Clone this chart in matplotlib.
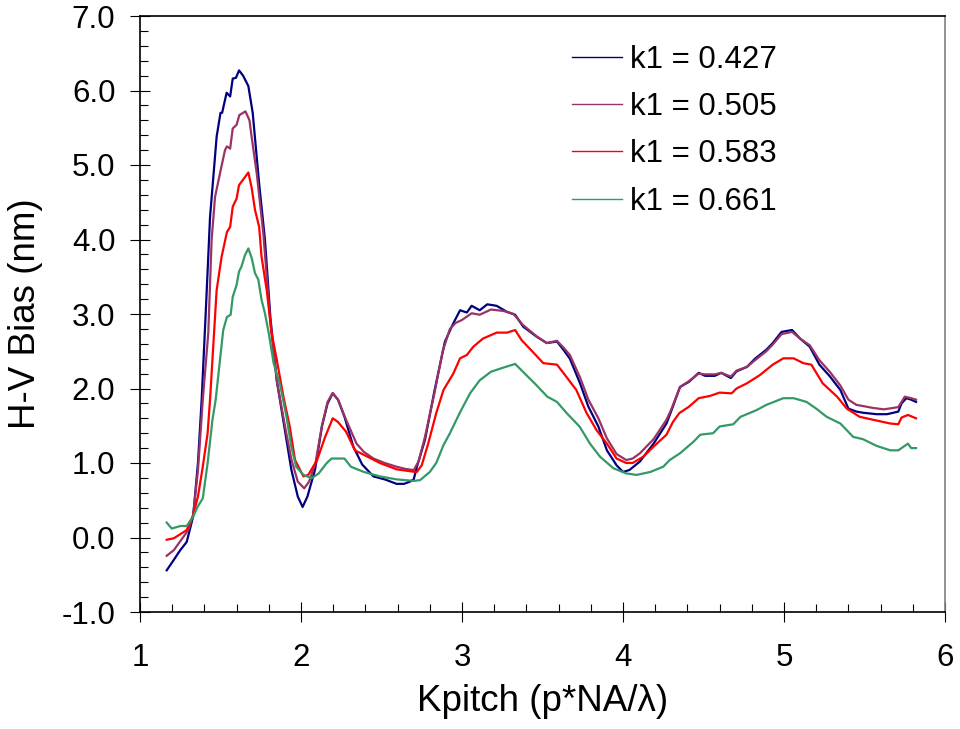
"""
H-V bias vs Kpitch for four k1 values
"""
import matplotlib
import matplotlib.pyplot as plt
from matplotlib.lines import Line2D
from matplotlib.ticker import MultipleLocator, FormatStrFormatter

matplotlib.use("Agg")

plt.rcParams["font.family"] = ["Liberation Sans", "DejaVu Sans"]

labels = ["k1 = 0.427", "k1 = 0.505", "k1 = 0.583", "k1 = 0.661"]
colors = ["#000080", "#993366", "#ff0000", "#339966"]

# k1 = 0.427
x_427 = [1.166, 1.21, 1.25, 1.29, 1.33, 1.36, 1.383, 1.41, 1.435, 1.476, 1.50, 1.51,
         1.538, 1.56, 1.576, 1.596, 1.615, 1.64, 1.673, 1.70, 1.74, 1.776, 1.81, 1.85,
         1.90, 1.94, 1.98, 2.01, 2.04, 2.087, 2.13, 2.165, 2.197, 2.23, 2.27, 2.325,
         2.38, 2.45, 2.52, 2.594, 2.64, 2.677, 2.70, 2.72, 2.77, 2.83, 2.894, 2.946,
         2.988, 3.03, 3.06, 3.11, 3.157, 3.215, 3.278, 3.33, 3.38, 3.464, 3.526, 3.59,
         3.63, 3.67, 3.733, 3.785, 3.847, 3.90, 3.96, 4.0, 4.04, 4.105, 4.19, 4.27,
         4.30, 4.354, 4.41, 4.47, 4.51, 4.57, 4.61, 4.67, 4.705, 4.77, 4.82, 4.89,
         4.93, 4.985, 5.05, 5.10, 5.16, 5.22, 5.286, 5.35, 5.40, 5.45, 5.49, 5.575,
         5.64, 5.71, 5.73, 5.76, 5.79, 5.82]
y_427 = [-0.44, -0.30, -0.17, -0.06, 0.28, 1.0, 1.85, 3.1, 4.30, 5.38, 5.70, 5.70,
         5.97, 5.92, 6.16, 6.17, 6.27, 6.20, 6.06, 5.70, 4.75, 4.0, 2.95, 2.1,
         1.44, 0.91, 0.55, 0.41, 0.55, 0.91, 1.49, 1.80, 1.935, 1.85, 1.62, 1.22,
         0.98, 0.82, 0.78, 0.72, 0.72, 0.75, 0.78, 0.95, 1.31, 1.98, 2.63, 2.875,
         3.05, 3.02, 3.11, 3.05, 3.13, 3.11, 3.03, 2.99, 2.83, 2.695, 2.61, 2.63,
         2.52, 2.40, 2.07, 1.756, 1.49, 1.17, 0.97, 0.88, 0.906, 1.02, 1.26, 1.53,
         1.70, 2.02, 2.09, 2.21, 2.17, 2.17, 2.21, 2.14, 2.23, 2.29, 2.40, 2.52,
         2.61, 2.76, 2.785, 2.67, 2.56, 2.32, 2.16, 1.98, 1.73, 1.69, 1.675, 1.655,
         1.655, 1.69, 1.80, 1.87, 1.85, 1.82]

# k1 = 0.505
x_505 = [1.166, 1.21, 1.27, 1.30, 1.33, 1.36, 1.39, 1.424, 1.445, 1.466, 1.497, 1.528,
         1.54, 1.56, 1.576, 1.60, 1.617, 1.655, 1.68, 1.69, 1.725, 1.766, 1.81, 1.85,
         1.90, 1.94, 1.98, 2.02, 2.05, 2.09, 2.13, 2.165, 2.197, 2.23, 2.28, 2.345,
         2.39, 2.45, 2.52, 2.594, 2.65, 2.70, 2.73, 2.77, 2.83, 2.88, 2.925, 2.96,
         3.0, 3.06, 3.11, 3.18, 3.26, 3.32, 3.38, 3.464, 3.526, 3.59, 3.63, 3.67,
         3.733, 3.785, 3.847, 3.90, 3.96, 4.02, 4.06, 4.105, 4.19, 4.27, 4.30, 4.354,
         4.41, 4.47, 4.51, 4.57, 4.61, 4.67, 4.705, 4.77, 4.82, 4.89, 4.93, 4.985,
         5.05, 5.10, 5.16, 5.22, 5.286, 5.35, 5.40, 5.45, 5.49, 5.55, 5.62, 5.71,
         5.75, 5.79, 5.82]
y_505 = [-0.245, -0.17, 0.01, 0.10, 0.30, 0.9, 1.85, 2.74, 4.0, 4.57, 4.89, 5.2,
         5.25, 5.22, 5.49, 5.54, 5.67, 5.72, 5.60, 5.43, 4.89, 4.08, 2.875, 2.1,
         1.50, 1.05, 0.75, 0.66, 0.75, 1.0, 1.50, 1.82, 1.94, 1.85, 1.58, 1.26,
         1.15, 1.06, 1.0, 0.95, 0.92, 0.905, 1.02, 1.35, 1.95, 2.50, 2.80, 2.88,
         2.92, 3.01, 2.99, 3.06, 3.04, 3.0, 2.85, 2.70, 2.61, 2.64, 2.55, 2.45,
         2.15, 1.85, 1.60, 1.33, 1.12, 1.04, 1.06, 1.13, 1.32, 1.58, 1.72, 2.02,
         2.10, 2.20, 2.19, 2.19, 2.21, 2.16, 2.24, 2.29, 2.38, 2.50, 2.59, 2.73,
         2.76, 2.67, 2.58, 2.38, 2.22, 2.04, 1.85, 1.78, 1.765, 1.74, 1.72, 1.75,
         1.89, 1.87, 1.85]

# k1 = 0.583
x_583 = [1.166, 1.21, 1.24, 1.29, 1.33, 1.36, 1.39, 1.42, 1.435, 1.476, 1.507, 1.54,
         1.56, 1.576, 1.60, 1.615, 1.646, 1.673, 1.694, 1.714, 1.74, 1.755, 1.787, 1.818,
         1.85, 1.89, 1.93, 1.963, 2.015, 2.045, 2.10, 2.15, 2.197, 2.23, 2.28, 2.335,
         2.39, 2.49, 2.594, 2.70, 2.72, 2.75, 2.79, 2.84, 2.885, 2.946, 2.988, 3.03,
         3.07, 3.13, 3.215, 3.28, 3.33, 3.37, 3.44, 3.505, 3.59, 3.64, 3.71, 3.774,
         3.836, 3.90, 3.96, 4.02, 4.06, 4.126, 4.19, 4.27, 4.31, 4.35, 4.41, 4.47,
         4.54, 4.60, 4.675, 4.705, 4.77, 4.85, 4.93, 4.996, 5.06, 5.12, 5.17, 5.24,
         5.33, 5.39, 5.47, 5.575, 5.66, 5.71, 5.73, 5.77, 5.82]
y_583 = [-0.03, -0.01, 0.03, 0.10, 0.30, 0.55, 0.95, 1.40, 1.85, 3.32, 3.77, 4.10,
         4.17, 4.44, 4.55, 4.73, 4.82, 4.90, 4.69, 4.40, 4.17, 3.77, 3.32, 2.74,
         2.38, 1.90, 1.49, 1.04, 0.82, 0.84, 1.04, 1.35, 1.60, 1.55, 1.42, 1.17,
         1.11, 1.0, 0.915, 0.883, 0.88, 0.97, 1.26, 1.67, 1.98, 2.20, 2.405, 2.45,
         2.56, 2.67, 2.75, 2.75, 2.785, 2.65, 2.49, 2.34, 2.32, 2.18, 1.98, 1.67,
         1.44, 1.26, 1.06, 1.0, 1.0, 1.085, 1.22, 1.38, 1.55, 1.67, 1.756, 1.87,
         1.90, 1.945, 1.935, 2.0, 2.07, 2.18, 2.32, 2.405, 2.405, 2.34, 2.32, 2.07,
         1.89, 1.73, 1.62, 1.57, 1.53, 1.52, 1.61, 1.645, 1.60]

# k1 = 0.661
x_661 = [1.166, 1.197, 1.25, 1.29, 1.33, 1.36, 1.39, 1.42, 1.45, 1.47, 1.517, 1.54,
         1.563, 1.576, 1.60, 1.615, 1.63, 1.652, 1.673, 1.694, 1.714, 1.735, 1.755, 1.776,
         1.80, 1.83, 1.87, 1.91, 1.94, 1.97, 2.015, 2.066, 2.11, 2.16, 2.19, 2.23,
         2.27, 2.31, 2.39, 2.49, 2.594, 2.70, 2.74, 2.80, 2.84, 2.885, 2.925, 2.99,
         3.05, 3.11, 3.18, 3.256, 3.33, 3.39, 3.46, 3.53, 3.59, 3.65, 3.73, 3.795,
         3.857, 3.94, 4.02, 4.085, 4.17, 4.25, 4.29, 4.354, 4.44, 4.48, 4.56, 4.60,
         4.685, 4.73, 4.83, 4.89, 4.996, 5.06, 5.14, 5.20, 5.265, 5.35, 5.43, 5.49,
         5.575, 5.66, 5.71, 5.77, 5.79, 5.82]
y_661 = [0.20, 0.12, 0.154, 0.154, 0.28, 0.42, 0.525, 1.0, 1.58, 1.85, 2.785, 2.96,
         2.99, 3.23, 3.39, 3.57, 3.635, 3.79, 3.88, 3.75, 3.55, 3.46, 3.19, 3.01,
         2.74, 2.34, 2.05, 1.62, 1.22, 0.95, 0.84, 0.795, 0.86, 1.0, 1.06, 1.06,
         1.06, 0.95, 0.88, 0.82, 0.78, 0.76, 0.77, 0.88, 1.0, 1.24, 1.40, 1.69,
         1.935, 2.11, 2.225, 2.28, 2.33, 2.20, 2.05, 1.89, 1.82, 1.67, 1.49, 1.26,
         1.085, 0.93, 0.86, 0.84, 0.88, 0.95, 1.04, 1.13, 1.29, 1.38, 1.40, 1.49,
         1.52, 1.62, 1.71, 1.78, 1.87, 1.87, 1.82, 1.73, 1.62, 1.53, 1.35, 1.32,
         1.23, 1.17, 1.17, 1.26, 1.20, 1.20]


def main():
    fig = plt.figure(figsize=(9.6, 7.29), dpi=100)
    ax = fig.add_axes([140 / 960, 1 - 612 / 729, 805 / 960, 596 / 729])

    series = [(x_427, y_427), (x_505, y_505), (x_583, y_583), (x_661, y_661)]
    for (xs, ys), col in zip(series, colors):
        ax.plot(xs, ys, color=col, linewidth=1.6)

    ax.set_xlim(1, 6)
    ax.set_ylim(-1, 7)
    ax.xaxis.set_major_locator(MultipleLocator(1))
    ax.xaxis.set_minor_locator(MultipleLocator(0.2))
    ax.yaxis.set_major_locator(MultipleLocator(1))
    ax.yaxis.set_minor_locator(MultipleLocator(0.2))
    ax.xaxis.set_major_formatter(FormatStrFormatter("%d"))
    ax.yaxis.set_major_formatter(FormatStrFormatter("%.1f"))

    ax.tick_params(which="major", direction="inout", length=14.4, width=0.8,
                   labelsize=22.5, color="black")
    ax.tick_params(axis="y", which="major", pad=10.5)
    ax.tick_params(axis="x", which="major", pad=15)
    ax.tick_params(which="minor", direction="in", length=6, width=0.8)

    for side in ["left", "bottom", "top"]:
        ax.spines[side].set_linewidth(1.2)
        ax.spines[side].set_color("black")
    ax.spines["right"].set_linewidth(1.2)
    ax.spines["right"].set_color("#808080")

    ax.set_xlabel("Kpitch (p*NA/\u03bb)", fontsize=26.5, labelpad=8)
    ax.set_ylabel("H-V Bias (nm)", fontsize=26.5, labelpad=13)

    handles = [Line2D([], [], color=c, linewidth=1.0) for c in colors]
    ax.legend(handles, labels, loc="upper left",
              bbox_to_anchor=(572 / 960, 1 - 45 / 729),
              bbox_transform=fig.transFigure, frameon=False, fontsize=22.5,
              borderpad=0, borderaxespad=0, handlelength=1.6,
              handletextpad=0.25, labelspacing=0.55)

    fig.savefig("out.png", dpi=100)


if __name__ == "__main__":
    main()
